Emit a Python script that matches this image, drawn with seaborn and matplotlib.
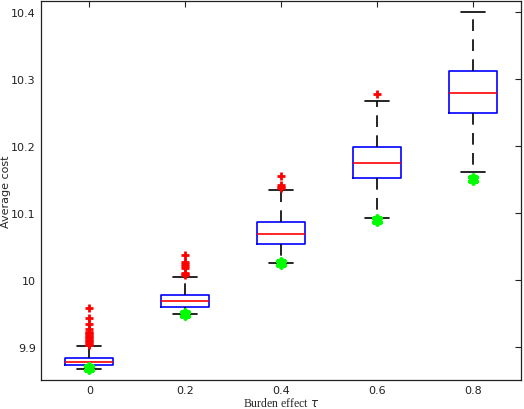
import numpy as np
import pandas as pd
import seaborn as sns
import matplotlib
matplotlib.use("Agg")
import matplotlib.pyplot as plt

# burden effect values (x positions)
taus = [0.0, 0.2, 0.4, 0.6, 0.8]

# five-number summaries
whisk_lo = [9.867, 9.950, 10.025, 10.092, 10.161]
q1 = [9.873, 9.959, 10.053, 10.152, 10.249]
median = [9.878, 9.968, 10.068, 10.174, 10.279]
q3 = [9.884, 9.977, 10.086, 10.198, 10.311]
whisk_hi = [9.901, 10.004, 10.134, 10.267, 10.400]

# outliers (red crosses)
outliers = [
    [9.958, 9.944, 9.935, 9.927, 9.923, 9.921, 9.919, 9.917, 9.915, 9.913,
     9.911, 9.909, 9.907, 9.905, 9.903],
    [10.038, 10.027, 10.024, 10.021, 10.018, 10.011, 10.009, 10.007],
    [10.155, 10.141, 10.139, 10.137],
    [10.277],
    [],
]

# green stars (lower bound / best case)
best = [9.868, 9.950, 10.025, 10.090, 10.151]

ytick_vals = [9.9, 10.0, 10.1, 10.2, 10.3, 10.4]
ytick_labels = ["9.9", "10", "10.1", "10.2", "10.3", "10.4"]
xtick_labels = ["0", "0.2", "0.4", "0.6", "0.8"]

rows = []
for t, a, b, c, d, e in zip(taus, whisk_lo, q1, median, q3, whisk_hi):
    for v in (a, b, c, d, e):
        rows.append({"tau": t, "cost": v})
df = pd.DataFrame(rows)

out_x, out_y = [], []
for t, vals in zip(taus, outliers):
    out_x += [t] * len(vals)
    out_y += vals

sns.set_style("white")
plt.rcParams.update({
    "font.family": ["DejaVu Sans"],
    "xtick.direction": "in",
    "ytick.direction": "in",
    "xtick.top": True,
    "ytick.right": True,
})

fig = plt.figure(figsize=(5.24, 4.10), dpi=100)
ax = fig.add_axes([0.079, 0.071, 0.915, 0.924])

sns.boxplot(data=df, x="tau", y="cost", native_scale=True, whis=(0, 100),
            width=0.5, fill=False, showfliers=False, color="blue",
            linewidth=1.2, ax=ax,
            boxprops=dict(color="blue"),
            medianprops=dict(color="red"),
            whiskerprops=dict(color="black", linestyle=(0, (7, 5))),
            capprops=dict(color="black"),
            capwidths=0.05)

sns.scatterplot(x=out_x, y=out_y, marker="+", color="red", s=40,
                linewidth=2, ax=ax, zorder=5)
sns.scatterplot(x=taus, y=best, marker=(6, 2, 0), color="#00ff00",
                edgecolor="#00ff00", s=35, linewidth=3, ax=ax, zorder=6)

ax.set_xlim(-0.1, 0.9)
ax.set_ylim(9.851, 10.416)
ax.set_xticks(taus)
ax.set_xticklabels(xtick_labels)
ax.set_yticks(ytick_vals)
ax.set_yticklabels(ytick_labels)
ax.tick_params(labelsize=8, length=4, width=0.8, colors="#222222", pad=4)
ax.set_xlabel(r"Burden effect $\tau$", fontsize=8.5, family="Liberation Serif")
ax.set_ylabel("Average cost", fontsize=8)
ax.xaxis.set_label_coords(0.5, -0.043)
ax.yaxis.set_label_coords(-0.064, 0.5)
for sp in ax.spines.values():
    sp.set_color("#222222")
    sp.set_linewidth(0.9)

fig.savefig("out.png", dpi=100)
